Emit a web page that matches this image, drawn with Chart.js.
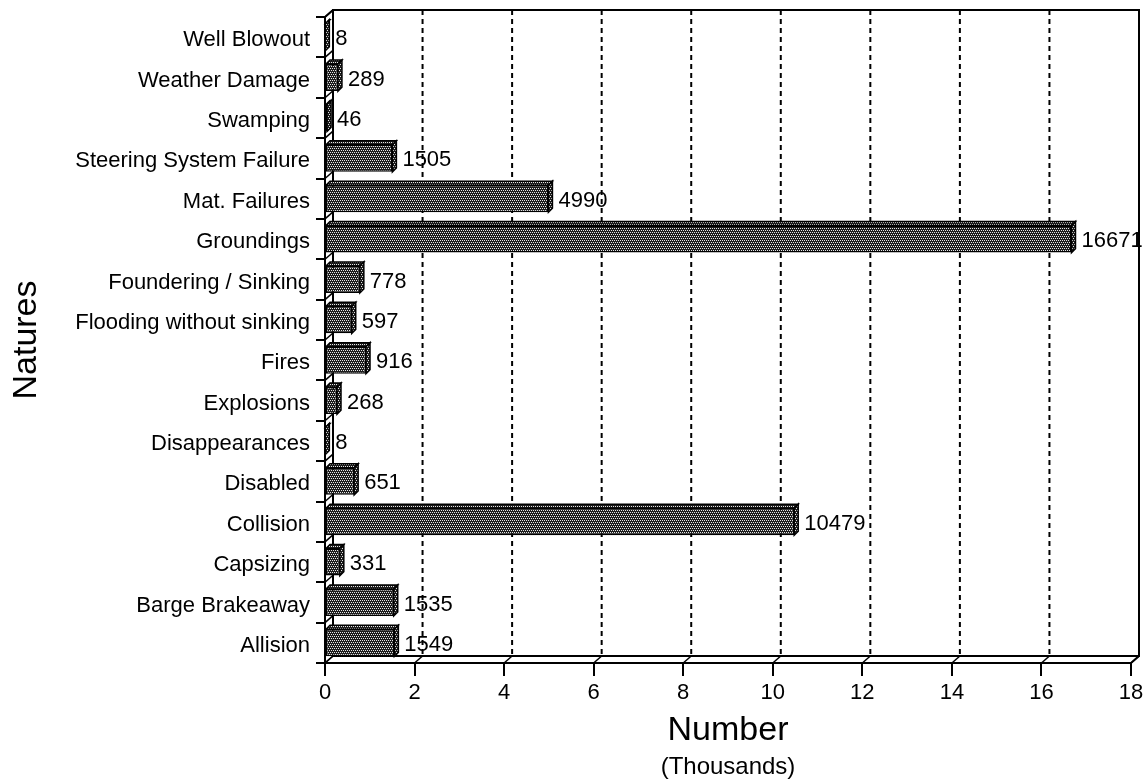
<!DOCTYPE html>
<html>
<head>
<meta charset="utf-8">
<script src="https://cdn.jsdelivr.net/npm/chart.js@4.4.1/dist/chart.umd.min.js"></script>
<style>
  html, body { margin: 0; padding: 0; background: #fff; }
  #wrap { width: 1147px; height: 782px; position: relative; }
</style>
</head>
<body>
<div id="wrap"><canvas id="chart"></canvas></div>
<script>
// categories top to bottom, counts as printed next to the bars
const natures = [
  'Well Blowout', 'Weather Damage', 'Swamping', 'Steering System Failure',
  'Mat. Failures', 'Groundings', 'Foundering / Sinking', 'Flooding without sinking',
  'Fires', 'Explosions', 'Disappearances', 'Disabled', 'Collision',
  'Capsizing', 'Barge Brakeaway', 'Allision'
];
const counts = [8, 289, 46, 1505, 4990, 16671, 778, 597, 916, 268, 8, 651, 10479, 331, 1535, 1549];
const xTicks = [0, 2, 4, 6, 8, 10, 12, 14, 16, 18];

// the axis is in thousands
const thousands = counts.map(c => c / 1000);

const FONT = "'Liberation Sans', Arial, Helvetica, sans-serif";
const DX = 8, DY = 7;   // depth of the back wall
const BD = 4;           // depth of the bars

Chart.defaults.font.family = FONT;
Chart.defaults.color = '#000';

const ctx = document.getElementById('chart').getContext('2d');

function dotPattern() {
  const c = document.createElement('canvas');
  c.width = 4; c.height = 4;
  const g = c.getContext('2d');
  g.fillStyle = '#1c1c1c';
  g.fillRect(0, 0, 4, 4);
  g.fillStyle = '#e6e6e6';
  g.fillRect(0, 0, 1, 1);
  g.fillRect(2, 0, 1, 1);
  g.fillRect(1, 2, 1, 1);
  g.fillRect(3, 2, 1, 1);
  return ctx.createPattern(c, 'repeat');
}
const dots = dotPattern();

// back wall, floor, dashed grid, wall slashes
const wallPlugin = {
  id: 'wall',
  beforeDatasetsDraw(chart) {
    const { ctx, chartArea: a, scales: { x, y } } = chart;
    const top = a.top - DY, floor = a.bottom - DY;
    ctx.save();
    ctx.strokeStyle = '#000';
    ctx.lineWidth = 2;

    // dashed gridlines on the back wall
    ctx.setLineDash([5, 4]);
    xTicks.slice(1, -1).forEach(v => {
      const px = x.getPixelForValue(v) + DX;
      ctx.beginPath();
      ctx.moveTo(px, top);
      ctx.lineTo(px, floor);
      ctx.stroke();
    });
    ctx.setLineDash([]);

    // back frame
    ctx.beginPath();
    ctx.moveTo(a.left + DX, floor);
    ctx.lineTo(a.left + DX, top);
    ctx.lineTo(a.right + DX, top);
    ctx.lineTo(a.right + DX, floor);
    ctx.lineTo(a.left + DX, floor);
    ctx.moveTo(a.left, a.top);
    ctx.lineTo(a.left + DX, top);
    ctx.moveTo(a.right, a.bottom);
    ctx.lineTo(a.right + DX, floor);
    ctx.stroke();

    // slashes on the floor at each x tick
    ctx.lineWidth = 1.5;
    xTicks.forEach(v => {
      const px = x.getPixelForValue(v);
      ctx.beginPath();
      ctx.moveTo(px, a.bottom);
      ctx.lineTo(px + DX, floor);
      ctx.stroke();
    });
    // slashes on the left wall at each category boundary
    for (let i = 0; i <= natures.length; i++) {
      const py = y.getPixelForValue(i - 0.5);
      ctx.beginPath();
      ctx.moveTo(a.left, py);
      ctx.lineTo(a.left + DX, py - DY);
      ctx.stroke();
    }
    ctx.restore();
  },
  afterDatasetsDraw(chart) {
    const { ctx } = chart;
    const meta = chart.getDatasetMeta(0);
    ctx.save();
    ctx.lineWidth = 1.5;
    ctx.strokeStyle = '#000';
    ctx.fillStyle = dots;
    meta.data.forEach((bar, i) => {
      const { x, y, base, height } = bar.getProps(['x', 'y', 'base', 'height'], true);
      const t = y - height / 2, b = y + height / 2;
      // top face
      ctx.beginPath();
      ctx.moveTo(base, t);
      ctx.lineTo(base + BD, t - BD);
      ctx.lineTo(x + BD, t - BD);
      ctx.lineTo(x, t);
      ctx.closePath();
      ctx.fill();
      ctx.stroke();
      // right face
      ctx.beginPath();
      ctx.moveTo(x, t);
      ctx.lineTo(x + BD, t - BD);
      ctx.lineTo(x + BD, b - BD);
      ctx.lineTo(x, b);
      ctx.closePath();
      ctx.fill();
      ctx.stroke();
    });
    // value labels
    ctx.fillStyle = '#000';
    ctx.font = '22px ' + FONT;
    ctx.textAlign = 'left';
    ctx.textBaseline = 'middle';
    meta.data.forEach((bar, i) => {
      const { x, y } = bar.getProps(['x', 'y'], true);
      ctx.fillText(String(counts[i]), x + 10, y + 2);
    });
    ctx.restore();
  },
  afterDraw(chart) {
    const { ctx, chartArea: a } = chart;
    ctx.save();
    ctx.fillStyle = '#000';
    ctx.font = '24px ' + FONT;
    ctx.textAlign = 'center';
    ctx.textBaseline = 'middle';
    ctx.fillText('(Thousands)', (a.left + a.right) / 2, 767);
    ctx.restore();
  }
};

new Chart(ctx, {
  type: 'bar',
  data: {
    labels: natures,
    datasets: [{
      data: thousands,
      backgroundColor: dots,
      borderColor: '#000',
      borderWidth: 1.5,
      borderSkipped: false,
      categoryPercentage: 1,
      barPercentage: 0.67
    }]
  },
  plugins: [wallPlugin],
  options: {
    indexAxis: 'y',
    responsive: true,
    maintainAspectRatio: false,
    animation: false,
    layout: { padding: { left: 0, right: 16, top: 17, bottom: 0 } },
    plugins: { legend: { display: false }, tooltip: { enabled: false } },
    scales: {
      x: {
        type: 'linear',
        min: 0,
        max: 18,
        afterBuildTicks: s => { s.ticks = xTicks.map(v => ({ value: v })); },
        ticks: { font: { size: 22 }, padding: 4, maxRotation: 0, color: '#000' },
        grid: { drawOnChartArea: false, drawTicks: true, tickLength: 13, color: '#000', lineWidth: 2 },
        border: { display: true, color: '#000', width: 2 },
        title: { display: true, text: 'Number', font: { size: 34 }, color: '#000', padding: { top: 0, bottom: 31 } },
        afterFit: s => { s.height = 119; s.paddingLeft = 0; s.paddingRight = 0; }
      },
      y: {
        ticks: { font: { size: 22 }, padding: 6, labelOffset: 3, autoSkip: false, color: '#000' },
        grid: { offset: true, drawOnChartArea: false, drawTicks: true, tickLength: 9, color: '#000', lineWidth: 2 },
        border: { display: true, color: '#000', width: 2 },
        title: { display: true, text: 'Natures', font: { size: 34 }, color: '#000', padding: { top: 6, bottom: 0 } },
        afterFit: s => { s.width = 325; s.paddingTop = 0; s.paddingBottom = 0; }
      }
    }
  }
});
</script>
</body>
</html>
